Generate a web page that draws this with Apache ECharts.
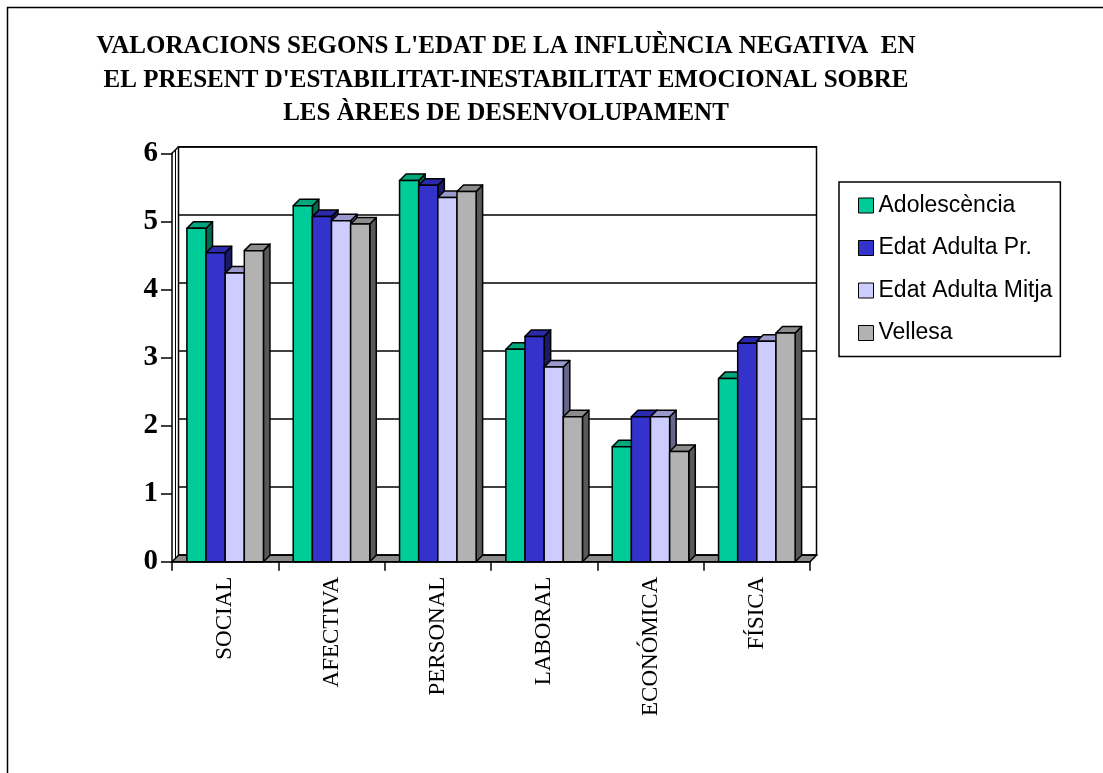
<!DOCTYPE html>
<html>
<head>
<meta charset="utf-8">
<script src="https://cdn.jsdelivr.net/npm/echarts@6/dist/echarts.min.js"></script>
<style>
html,body{margin:0;padding:0;background:#fff;}
#chart{width:1103px;height:773px;}
</style>
</head>
<body>
<div id="chart"></div>
<script>
// ---- data ----
var categories = ['SOCIAL', 'AFECTIVA', 'PERSONAL', 'LABORAL', 'ECONÓMICA', 'FÍSICA'];
var seriesNames = ['Adolescència', 'Edat Adulta Pr.', 'Edat Adulta Mitja', 'Vellesa'];
var adolescencia = [4.90, 5.23, 5.60, 3.12, 1.69, 2.69];
var edatAdultaPr = [4.54, 5.07, 5.53, 3.31, 2.13, 3.21];
var edatAdultaMitja = [4.24, 5.01, 5.35, 2.86, 2.13, 3.24];
var vellesa = [4.57, 4.96, 5.44, 2.13, 1.62, 3.36];
var yTicks = [0, 1, 2, 3, 4, 5, 6];
var titleLines = [
  "VALORACIONS SEGONS L'EDAT DE LA INFLUÈNCIA NEGATIVA  EN",
  "EL PRESENT D'ESTABILITAT-INESTABILITAT EMOCIONAL SOBRE",
  "LES ÀREES DE DESENVOLUPAMENT"
];

// ---- styles ----
var faceColors = [
  {front: '#00CC99', top: '#00A67C', side: '#006B50'},
  {front: '#3333CC', top: '#2A2AAA', side: '#1A1A66'},
  {front: '#CCCCFF', top: '#9999CC', side: '#666688'},
  {front: '#B2B2B2', top: '#8C8C8C', side: '#595959'}
];
var DEPTH = 6.5;
var BAR_FRAC = 0.18;
var SERIF = '"Liberation Serif", "Times New Roman", serif';
var SANS = '"Liberation Sans", Arial, sans-serif';

var allValues = [adolescencia, edatAdultaPr, edatAdultaMitja, vellesa];

function makeBarRenderer(sIdx) {
  return function (params, api) {
    var ci = api.value(0), v = api.value(1);
    var base = api.coord([ci, 0]);
    var top = api.coord([ci, v]);
    var band = api.size([1, 0])[0];
    var bw = band * BAR_FRAC;
    var x0 = base[0] - 2 * bw + sIdx * bw;
    var ty = top[1], by = base[1];
    var d = DEPTH;
    var c = faceColors[sIdx];
    var ls = {stroke: '#000', lineWidth: 1.5, lineJoin: 'round'};
    return {
      type: 'group',
      children: [
        {type: 'polygon', shape: {points: [[x0 + bw, ty], [x0 + bw + d, ty - d], [x0 + bw + d, by - d], [x0 + bw, by]]},
          style: Object.assign({fill: c.side}, ls)},
        {type: 'polygon', shape: {points: [[x0, ty], [x0 + d, ty - d], [x0 + bw + d, ty - d], [x0 + bw, ty]]},
          style: Object.assign({fill: c.top}, ls)},
        {type: 'rect', shape: {x: x0, y: ty, width: bw, height: by - ty},
          style: Object.assign({fill: c.front}, ls)}
      ]
    };
  };
}

function floorRenderer(params, api) {
  var cs = params.coordSys;
  var y0 = api.coord([0, 0])[1];
  var yTop = api.coord([0, 6])[1];
  var xl = cs.x, xr = cs.x + cs.width, d = DEPTH;
  return {
    type: 'group',
    children: [
      {type: 'polygon', shape: {points: [[xl, y0], [xl + d, y0 - d], [xr + d, y0 - d], [xr, y0]]},
        style: {fill: '#8C8C8C', stroke: '#000', lineWidth: 1.5}},
      {type: 'line', shape: {x1: xl, y1: yTop, x2: xl + d, y2: yTop - d},
        style: {stroke: '#000', lineWidth: 1.5}},
      {type: 'line', shape: {x1: xl + d - 3, y1: yTop - d + 3, x2: xl + d - 3, y2: y0 - 3},
        style: {stroke: '#000', lineWidth: 1}}
    ]
  };
}

var gridFront = {left: 172, top: 153.3, width: 638, height: 408.4};
var gridBack = {left: 172 + DEPTH, top: 153.3 - DEPTH, width: 638, height: 408.4,
  show: true, borderColor: '#000', borderWidth: 1.5, backgroundColor: '#fff'};

var series = [
  {type: 'custom', name: 'floor', xAxisIndex: 0, yAxisIndex: 0, data: [[0, 0]],
    renderItem: floorRenderer, silent: true, z: 1}
];
seriesNames.forEach(function (nm, si) {
  series.push({
    type: 'custom', name: nm, xAxisIndex: 0, yAxisIndex: 0, z: 2,
    itemStyle: {color: faceColors[si].front},
    encode: {x: 0, y: 1},
    data: allValues[si].map(function (v, i) { return [i, v]; }),
    renderItem: makeBarRenderer(si)
  });
});

var chart = echarts.init(document.getElementById('chart'), null, {renderer: 'canvas'});
chart.setOption({
  backgroundColor: '#fff',
  animation: false,
  title: {
    text: titleLines.join('\n'),
    left: 506, top: 30, padding: 0,
    textAlign: 'center',
    textStyle: {fontFamily: SERIF, fontWeight: 'bold', fontSize: 25, lineHeight: 33.5, color: '#000'}
  },
  legend: {
    data: seriesNames,
    orient: 'vertical',
    left: 839, top: 182,
    padding: [12, 8, 12, 19],
    borderColor: '#000', borderWidth: 1.5,
    itemWidth: 15, itemHeight: 15, itemGap: 19.5, itemTextGap: 10,
    icon: 'rect',
    itemStyle: {borderColor: '#000', borderWidth: 1},
    textStyle: {fontFamily: SANS, fontSize: 23, color: '#000', lineHeight: 23}
  },
  graphic: [
    {type: 'polyline', shape: {points: [[7.5, 900], [7.5, 7.5], [1200, 7.5]]},
      style: {stroke: '#000', lineWidth: 1.5, fill: null}, silent: true}
  ],
  grid: [gridFront, gridBack],
  xAxis: [
    {type: 'category', gridIndex: 0, data: categories, boundaryGap: true,
      axisLine: {show: true, lineStyle: {color: '#000', width: 1.5}},
      axisTick: {show: true, length: 9, lineStyle: {color: '#000', width: 1.5}},
      axisLabel: {rotate: 90, margin: 15, color: '#000', fontFamily: SERIF, fontSize: 23},
      z: 3},
    {type: 'category', gridIndex: 1, data: categories, show: false}
  ],
  yAxis: [
    {type: 'value', gridIndex: 0, min: 0, max: 6, interval: 1,
      axisLine: {show: true, lineStyle: {color: '#000', width: 1.5}},
      axisTick: {show: true, length: 11, lineStyle: {color: '#000', width: 1.5}},
      splitLine: {show: false},
      axisLabel: {margin: 14, color: '#000', fontFamily: SERIF, fontWeight: 'bold', fontSize: 29,
        formatter: function (v) { return yTicks.indexOf(v) >= 0 ? String(v) : ''; }},
      z: 3},
    {type: 'value', gridIndex: 1, min: 0, max: 6, interval: 1,
      axisLine: {show: false}, axisTick: {show: false}, axisLabel: {show: false},
      splitLine: {show: true, lineStyle: {color: '#000', width: 1.5}}}
  ],
  series: series
});
</script>
</body>
</html>
